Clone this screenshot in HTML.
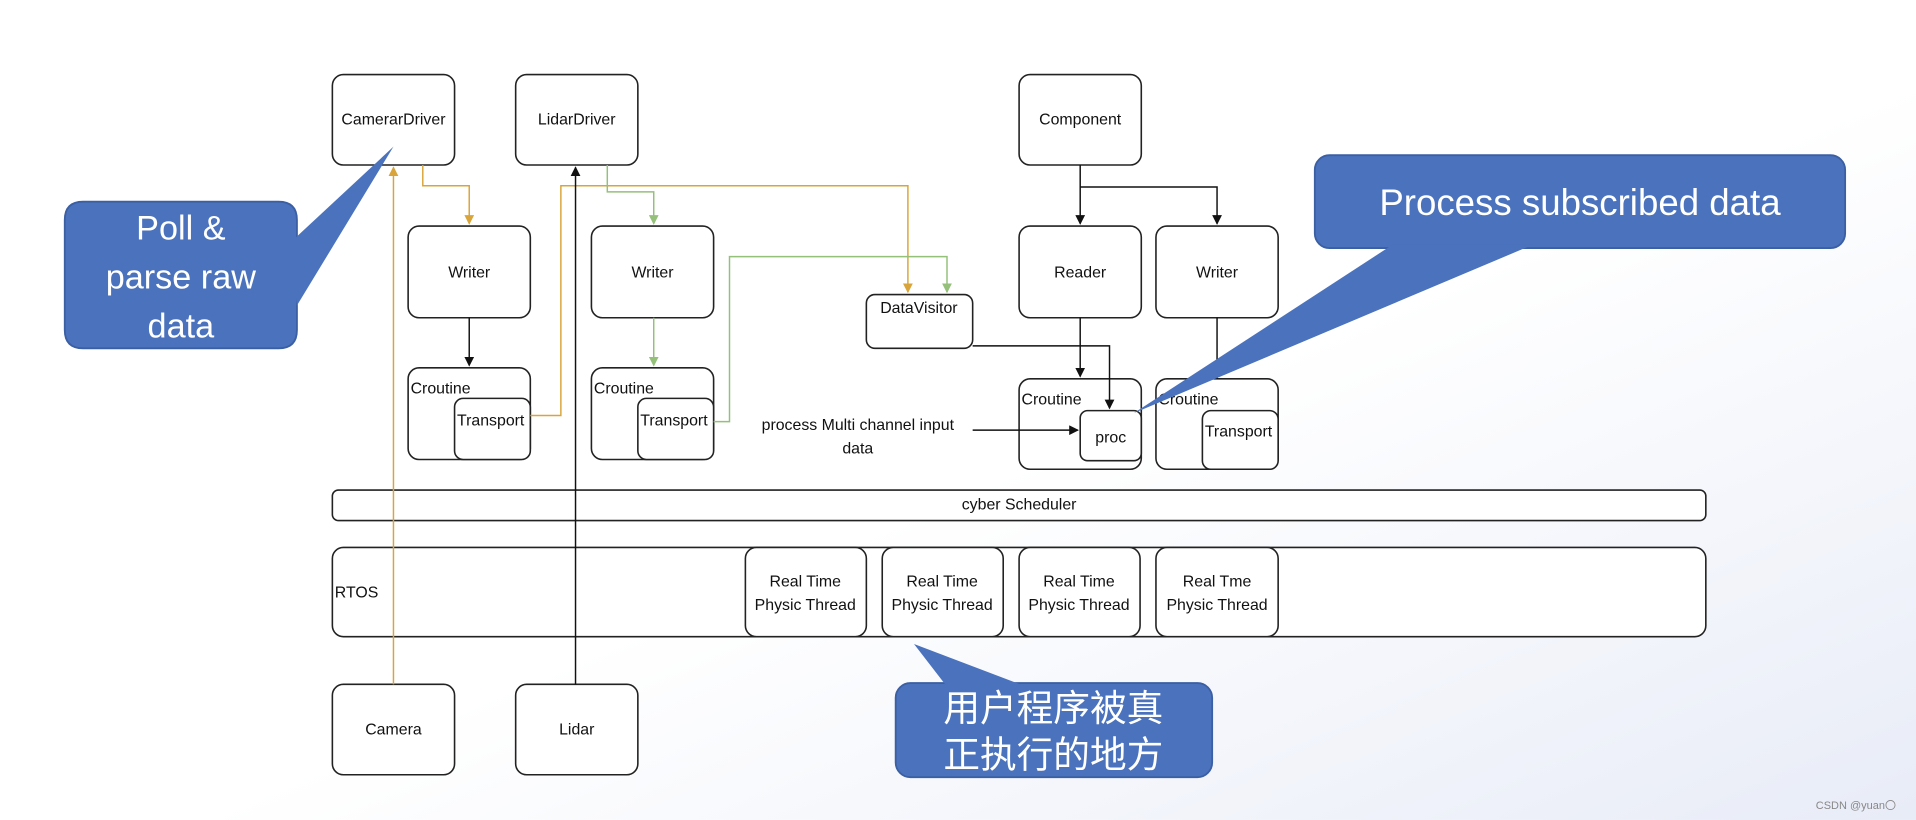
<!DOCTYPE html>
<html><head><meta charset="utf-8"><style>
html,body{margin:0;padding:0;background:#fff;}
svg{display:block}
text{font-family:"Liberation Sans",Arial,sans-serif;}
</style></head><body>
<svg width="1916" height="820" viewBox="0 0 1568 671" xmlns="http://www.w3.org/2000/svg">
<defs>
<linearGradient id="bg" x1="0.55" y1="0.55" x2="1" y2="1">
<stop offset="0" stop-color="#fff"/><stop offset="1" stop-color="#e8ecf7"/></linearGradient>
<marker id="ab" markerWidth="8" markerHeight="8" refX="7" refY="4" orient="auto" markerUnits="userSpaceOnUse"><path d="M0,0 L8,4 L0,8 z" fill="#111"/></marker>
<marker id="ao" markerWidth="8" markerHeight="8" refX="7" refY="4" orient="auto" markerUnits="userSpaceOnUse"><path d="M0,0 L8,4 L0,8 z" fill="#d9a53a"/></marker>
<marker id="ag" markerWidth="8" markerHeight="8" refX="7" refY="4" orient="auto" markerUnits="userSpaceOnUse"><path d="M0,0 L8,4 L0,8 z" fill="#94c07a"/></marker>
</defs>
<rect width="1568" height="671" fill="url(#bg)"/>
<g fill="#fff" stroke="#222" stroke-width="1.3">
<rect x="272" y="61" width="100" height="74" rx="9"/>
<rect x="422" y="61" width="100" height="74" rx="9"/>
<rect x="834" y="61" width="100" height="74" rx="9"/>
<rect x="334" y="185" width="100" height="75" rx="9"/>
<rect x="484" y="185" width="100" height="75" rx="9"/>
<rect x="834" y="185" width="100" height="75" rx="9"/>
<rect x="946" y="185" width="100" height="75" rx="9"/>
<rect x="709" y="241" width="87" height="44" rx="7"/>
<rect x="334" y="301" width="100" height="75" rx="9"/>
<rect x="372" y="326" width="62" height="50" rx="7"/>
<rect x="484" y="301" width="100" height="75" rx="9"/>
<rect x="522" y="326" width="62" height="50" rx="7"/>
<rect x="834" y="310" width="100" height="74" rx="9"/>
<rect x="884" y="336" width="50" height="41" rx="6"/>
<rect x="946" y="310" width="100" height="74" rx="9"/>
<rect x="984" y="336" width="62" height="48" rx="7"/>
<rect x="272" y="401" width="1124" height="25" rx="5"/>
<rect x="272" y="448" width="1124" height="73" rx="9"/>
<rect x="610" y="448" width="99" height="73" rx="9"/>
<rect x="722" y="448" width="99" height="73" rx="9"/>
<rect x="834" y="448" width="99" height="73" rx="9"/>
<rect x="946" y="448" width="100" height="73" rx="9"/>
<rect x="272" y="560" width="100" height="74" rx="9"/>
<rect x="422" y="560" width="100" height="74" rx="9"/>
</g>
<g fill="none" stroke-width="1.2">
<path d="M322,560 V137" stroke="#d9a53a" marker-end="url(#ao)"/>
<path d="M346,135 V152 H384 V183" stroke="#d9a53a" marker-end="url(#ao)"/>
<path d="M434,340 H459 V152 H743 V239" stroke="#d9a53a" marker-end="url(#ao)"/>
<path d="M497,135 V157 H535 V183" stroke="#94c07a" marker-end="url(#ag)"/>
<path d="M535,260 V299" stroke="#94c07a" marker-end="url(#ag)"/>
<path d="M584,345 H597 V210 H775 V239" stroke="#94c07a" marker-end="url(#ag)"/>
<path d="M471,560 V137" stroke="#111" marker-end="url(#ab)"/>
<path d="M384,260 V299" stroke="#111" marker-end="url(#ab)"/>
<path d="M884,135 V183" stroke="#111" marker-end="url(#ab)"/>
<path d="M884,153 H996 V183" stroke="#111" marker-end="url(#ab)"/>
<path d="M884,260 V308" stroke="#111" marker-end="url(#ab)"/>
<path d="M796,283 H908 V334" stroke="#111" marker-end="url(#ab)"/>
<path d="M996,260 V310" stroke="#111"/>
<path d="M796,352 H882" stroke="#111" marker-end="url(#ab)"/>
</g>
<g font-size="13" fill="#111" text-anchor="middle">
<text x="322" y="102">CamerarDriver</text>
<text x="472" y="102">LidarDriver</text>
<text x="884" y="102">Component</text>
<text x="384" y="227">Writer</text>
<text x="534" y="227">Writer</text>
<text x="884" y="227">Reader</text>
<text x="996" y="227">Writer</text>
<text x="752" y="256">DataVisitor</text>
<text x="909" y="362">proc</text>
<text x="834" y="417">cyber Scheduler</text>
<text x="659" y="480">Real Time</text><text x="659" y="499">Physic Thread</text>
<text x="771" y="480">Real Time</text><text x="771" y="499">Physic Thread</text>
<text x="883" y="480">Real Time</text><text x="883" y="499">Physic Thread</text>
<text x="996" y="480">Real Tme</text><text x="996" y="499">Physic Thread</text>
<text x="322" y="601">Camera</text>
<text x="472" y="601">Lidar</text>
<text x="702" y="352">process Multi channel input</text>
<text x="702" y="371">data</text>
</g>
<g font-size="13" fill="#111">
<text x="336" y="322">Croutine</text>
<text x="374" y="348">Transport</text>
<text x="486" y="322">Croutine</text>
<text x="524" y="348">Transport</text>
<text x="836" y="331">Croutine</text>
<text x="948" y="331">Croutine</text>
<text x="986" y="357">Transport</text>
<text x="274" y="489">RTOS</text>
</g>
<g fill="#4a72bd" stroke="#3b5fa3" stroke-width="1.5">
<path d="M53,180 Q53,165 68,165 H228 Q243,165 243,180 V270 Q243,285 228,285 H68 Q53,285 53,270 Z"/>
<path d="M236,200 L322,120 L243,250 Z" stroke="none"/>
<rect x="1076" y="127" width="434" height="76" rx="12"/>
<path d="M1140,200 L928,338 L1255,200 Z" stroke="none"/>
<rect x="733" y="559" width="259" height="77" rx="12"/>
<path d="M775,562 L748,527 L840,562 Z" stroke="none"/>
</g>
<g fill="#fff" text-anchor="middle">
<text x="148" y="196" font-size="28">Poll &amp;</text>
<text x="148" y="236" font-size="28">parse raw</text>
<text x="148" y="276" font-size="28">data</text>
<text x="1293" y="176" font-size="30">Process subscribed data</text>
<text x="862" y="590" font-size="30" font-family="'Liberation Sans','Noto Sans CJK SC',sans-serif">用户程序被真</text>
<text x="862" y="628" font-size="30" font-family="'Liberation Sans','Noto Sans CJK SC',sans-serif">正执行的地方</text>
</g>
<text x="1486" y="662" font-size="9" fill="#888">CSDN @yuan〇</text>
</svg>
</body></html>
